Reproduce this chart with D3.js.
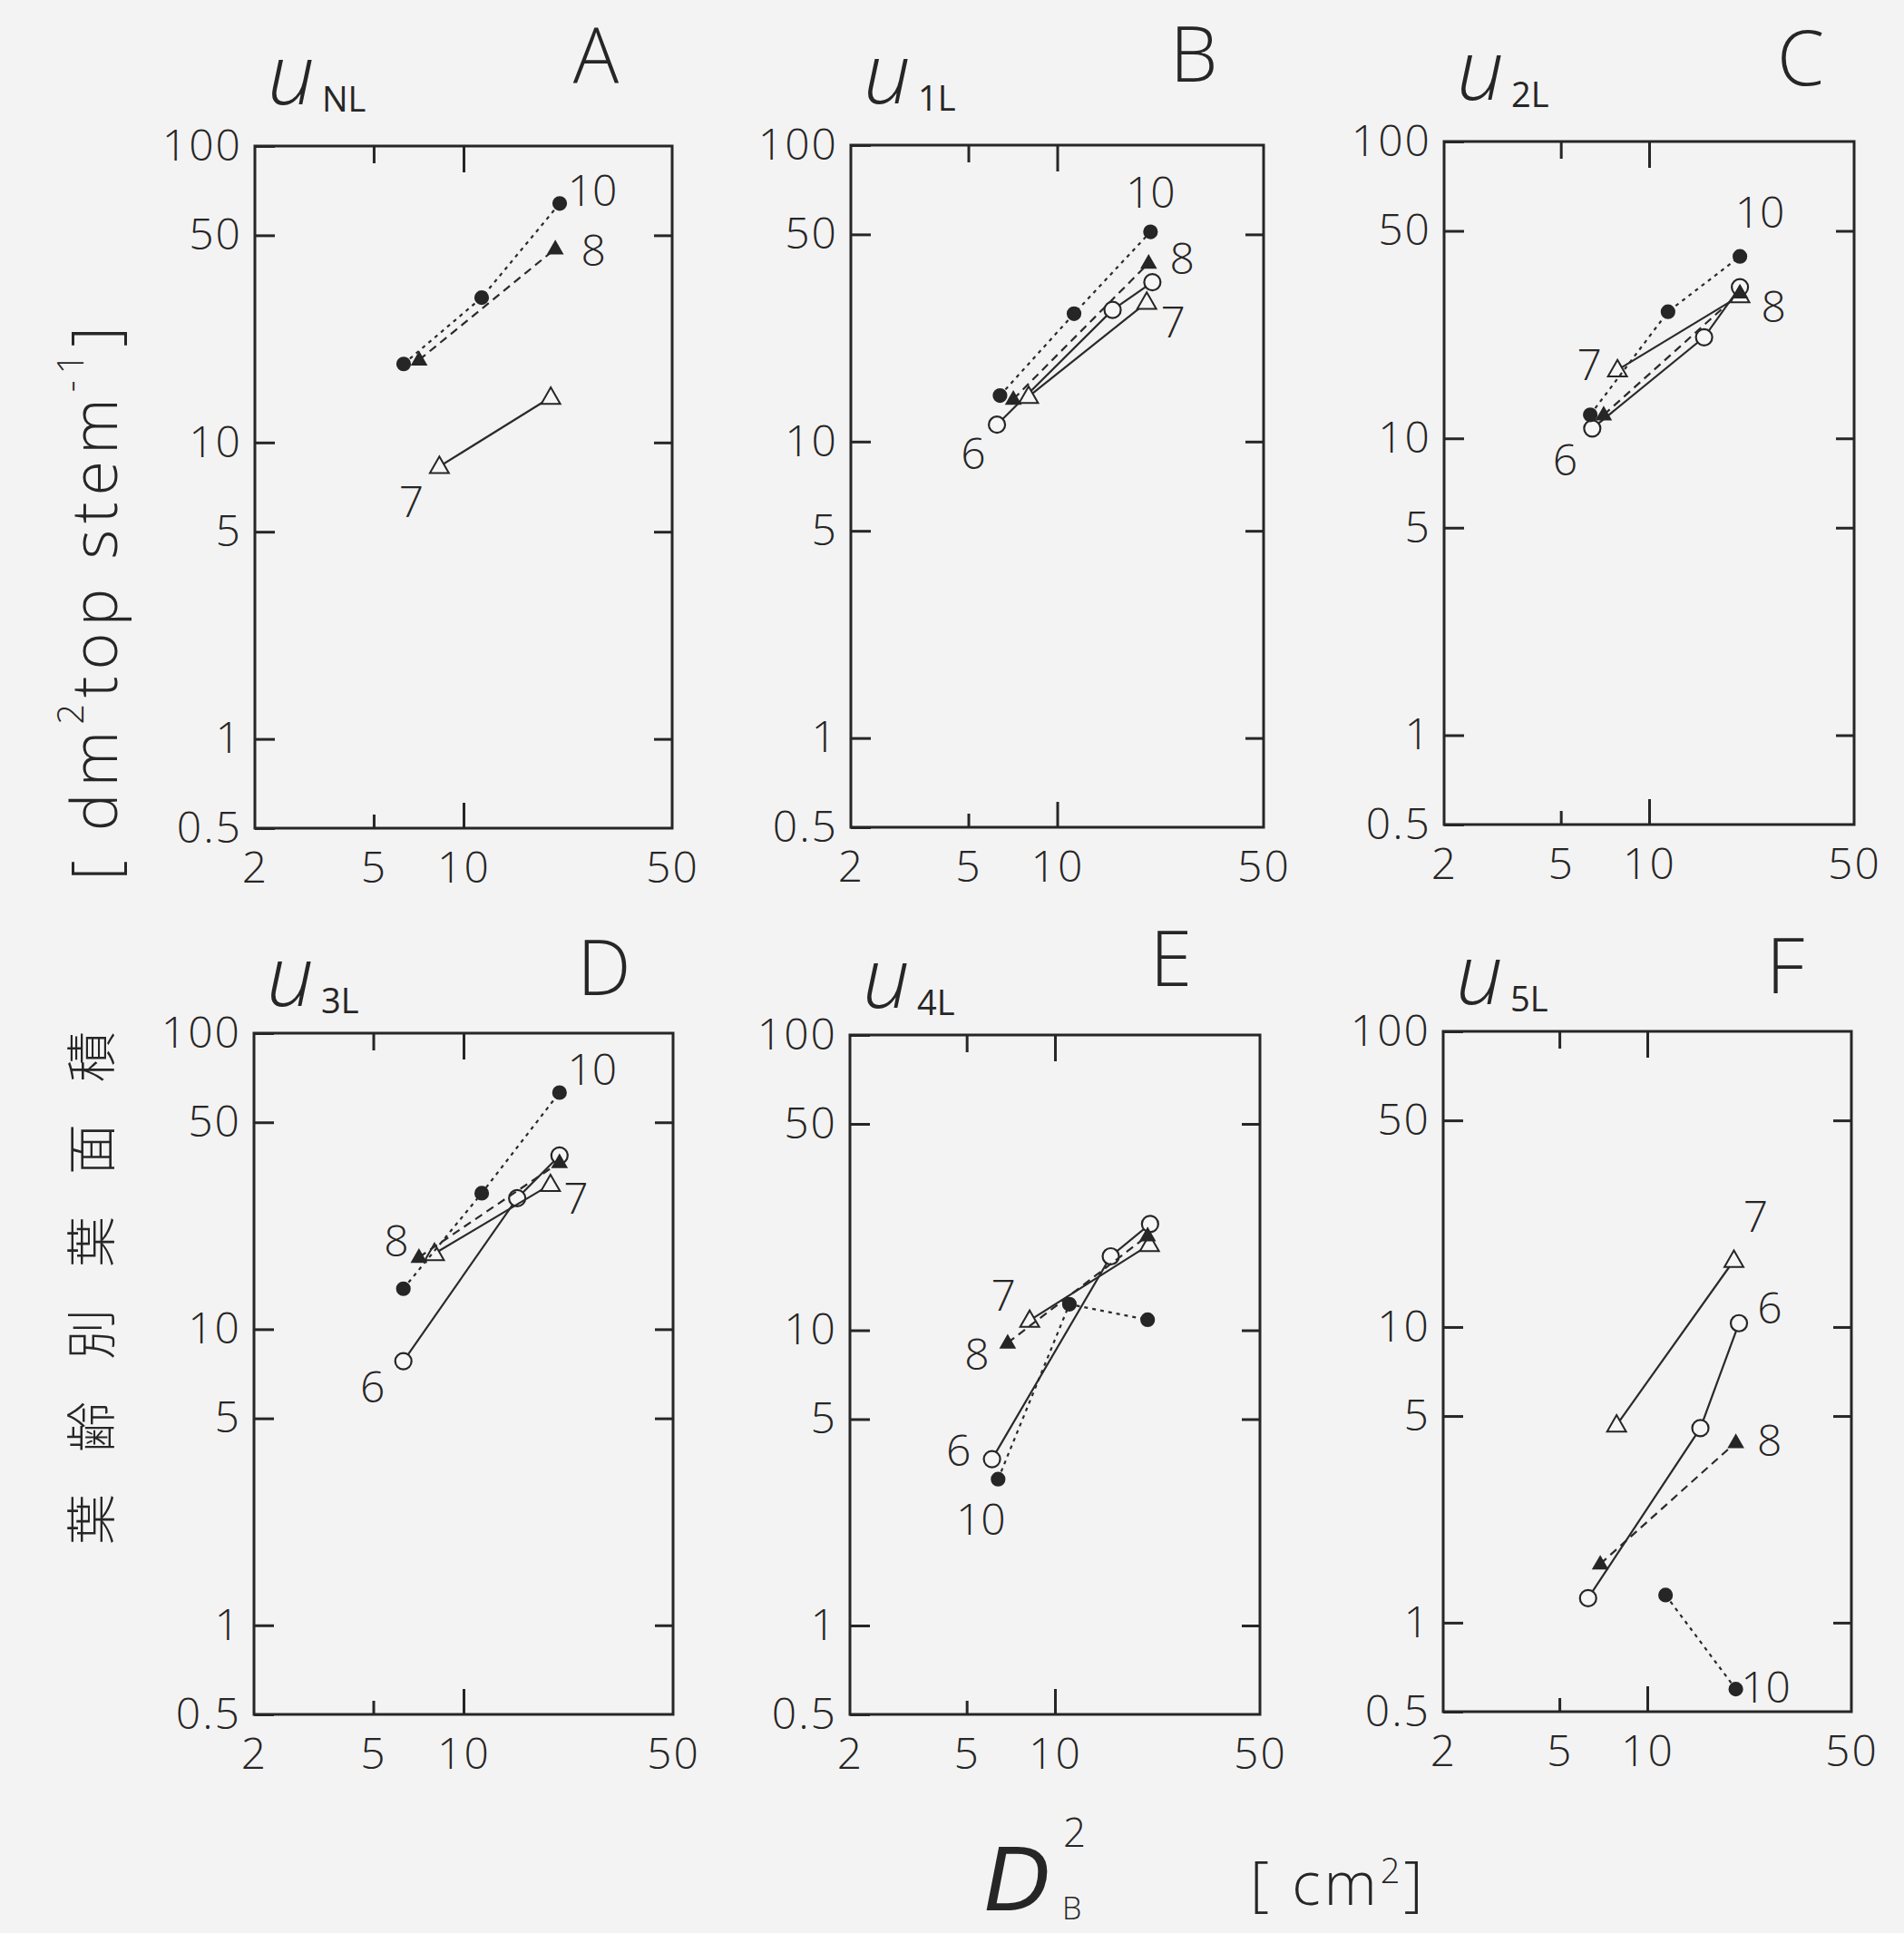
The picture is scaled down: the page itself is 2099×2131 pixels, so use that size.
<!DOCTYPE html>
<html lang="ja">
  <head>
    <meta charset="utf-8">
    <title>u by D_B^2</title>
    <style type="text/css">
      body{
        margin: 0;
        background: #f4f3f3;
      }
      svg text{
        font-family: "Open Sans", "DejaVu Sans", sans-serif;
        font-weight: 300;
        fill: #262626;
      }
      .frame{
        fill: none;
        stroke: #262626;
        stroke-width: 3;
      }
      .axis line{
        stroke: #262626;
        stroke-width: 3;
      }
      .axis path{
        display: none;
      }
      .series{
        fill: none;
        stroke: #2a2a2a;
        stroke-width: 2.2;
      }
    </style>
    <script src="https://cdn.jsdelivr.net/npm/d3@7"></script>
  </head>
  <body>
    <svg id="chart" width="2099" height="2131"></svg>

    <script type="text/javascript">
      //panel letters and subscripts of u
      var panelLetters = ["A", "B", "C", "D", "E", "F"];
      var panelSubs = ["NL", "1L", "2L", "3L", "4L", "5L"];

      //tick values of both log axes
      var xTicks = [2, 5, 10, 50];
      var yTicks = [0.5, 1, 5, 10, 50, 100];

      //points [D_B^2, u] of each series (6, 7, 8, 10)
      var dataA = {
        "10": [[6.3, 18.4], [11.5, 30.8], [21, 64]],
        "8": [[7.1, 19.0], [20.3, 45]],
        "7": [[8.3, 8.3], [19.6, 14.2]]
      };
      var dataB = {
        "10": [[6.4, 14.3], [11.4, 27], [20.7, 51]],
        "8": [[7.1, 13.9], [20.4, 40]],
        "7": [[8.0, 14.2], [20.1, 29.5]],
        "6": [[6.25, 11.4], [15.4, 27.8], [21, 34.5]]
      };
      var dataC = {
        "10": [[6.3, 12.0], [11.6, 26.7], [20.4, 41]],
        "8": [[7.0, 12.0], [20.4, 30.9]],
        "7": [[7.8, 17.0], [20.4, 30.2]],
        "6": [[6.4, 10.8], [15.4, 21.9], [20.4, 32.3]]
      };
      var dataD = {
        "10": [[6.3, 13.7], [11.5, 28.8], [20.9, 63]],
        "8": [[7.1, 17.5], [20.9, 36.6]],
        "7": [[8.0, 18.0], [19.5, 30.8]],
        "6": [[6.3, 7.8], [15.1, 27.7], [20.9, 38.6]]
      };
      var dataE = {
        "10": [[6.4, 3.13], [11.2, 12.25], [20.7, 10.85]],
        "8": [[6.9, 9.06], [20.7, 20.9]],
        "7": [[8.2, 10.8], [21, 19.5]],
        "6": [[6.1, 3.66], [15.5, 17.8], [21.1, 22.9]]
      };
      var dataF = {
        "10": [[11.55, 1.24], [20.1, 0.596]],
        "8": [[6.9, 1.58], [20.1, 4.07]],
        "7": [[7.85, 4.66], [19.8, 16.8]],
        "6": [[6.27, 1.21], [15.2, 4.55], [20.6, 10.3]]
      };
      var panelData = [dataA, dataB, dataC, dataD, dataE, dataF];

      //where each panel sits: left, top, width, height
      var frames = [
        [281, 161, 460, 752],
        [938, 160, 455, 752],
        [1592, 156, 452, 753],
        [280, 1139, 462, 751],
        [937, 1141, 452, 749],
        [1591, 1137, 450, 750]
      ];

      //series label placement: [series, point index, dx, dy]
      var labelSpots = [
        [["10", 2, 36, -16], ["8", 1, 42, 0], ["7", 0, -31, 37]],
        [["10", 2, 0, -45], ["8", 1, 37, -7], ["7", 1, 29, 20], ["6", 0, -26, 30]],
        [["10", 2, 22, -50], ["8", 1, 37, 14], ["7", 0, -31, -7], ["6", 0, -30, 33]],
        [["10", 2, 36, -27], ["7", 1, 28, 14], ["8", 0, -25, -20], ["6", 0, -34, 27]],
        [["7", 0, -29, -29], ["8", 0, -34, 11], ["6", 0, -37, -11], ["10", 0, -19, 43]],
        [["7", 1, 24, -50], ["6", 2, 34, -18], ["8", 1, 37, -4], ["10", 1, 33, -4]]
      ];

      //big panel letter: offset from right edge, baseline above the frame
      var letterDx = [-84, -77, -59, -76, -98, -73];
      var letterDy = [-70, -70, -62, -42, -54, -42];

      //marker and dash for each series
      var seriesStyle = {
        "6": {shape: "circle", fill: false, dash: null, size: 9},
        "7": {shape: "triangle", fill: false, dash: null, size: 11},
        "8": {shape: "triangle", fill: true, dash: "9,6", size: 8},
        "10": {shape: "circle", fill: true, dash: "4,5", size: 7}
      };

      var svg = d3.select("#chart");
      var ink = "#262626";

      frames.forEach(function(f, i){
        var left = f[0], top = f[1], w = f[2], h = f[3];
        var row = i < 3 ? 0 : 1;

        var x = d3.scaleLog().domain([2, 50]).range([0, w]);
        var y = d3.scaleLog().domain([0.5, 100]).range([h, 0]);

        var g = svg.append("g")
          .attr("transform", "translate(" + left + "," + top + ")");

        //left axis with labels, ticks point inward
        g.append("g")
          .attr("class", "axis")
          .call(d3.axisLeft(y).tickValues(yTicks).tickFormat(d3.format("")).tickSize(-22).tickSizeOuter(0).tickPadding(14))
          .selectAll("text")
          .style("font-size", "48px")
          .style("letter-spacing", "2px");

        //right axis, ticks only
        g.append("g")
          .attr("class", "axis")
          .attr("transform", "translate(" + w + ",0)")
          .call(d3.axisRight(y).tickValues([1, 5, 10, 50]).tickFormat("").tickSize(-20).tickSizeOuter(0));

        //bottom axis with labels
        var bottom = g.append("g")
          .attr("class", "axis")
          .attr("transform", "translate(0," + h + ")")
          .call(d3.axisBottom(x).tickValues(xTicks).tickFormat(d3.format("")).tickSize(-15).tickSizeOuter(0).tickPadding(26));
        bottom.selectAll("text")
          .style("font-size", "48px")
          .style("letter-spacing", "2px");
        bottom.selectAll(".tick line")
          .attr("y2", d => d == 10 ? -28 : (d == 5 ? -15 : 0));

        //top axis, ticks only
        g.append("g")
          .attr("class", "axis")
          .call(d3.axisTop(x).tickValues([5, 10]).tickFormat("").tickSize(-19).tickSizeOuter(0))
          .selectAll(".tick line")
          .attr("y2", d => d == 10 ? 29 : 19);

        g.append("rect")
          .attr("class", "frame")
          .attr("width", w)
          .attr("height", h);

        //series lines and markers
        var data = panelData[i];
        var line = d3.line().x(d => x(d[0])).y(d => y(d[1]));

        Object.keys(data).forEach(function(key){
          var st = seriesStyle[key];
          g.append("path")
            .datum(data[key])
            .attr("class", "series")
            .attr("stroke-dasharray", st.dash)
            .attr("d", line);

          if(st.shape == "circle"){
            g.selectAll(null)
              .data(data[key])
              .enter()
              .append("circle")
              .attr("cx", d => x(d[0]))
              .attr("cy", d => y(d[1]))
              .attr("r", st.size)
              .attr("fill", st.fill ? ink : "#f7f6f6")
              .attr("stroke", ink)
              .attr("stroke-width", 2.2);
          }else{
            var s = st.size;
            g.selectAll(null)
              .data(data[key])
              .enter()
              .append("path")
              .attr("transform", d => "translate(" + x(d[0]) + "," + y(d[1]) + ")")
              .attr("d", "M0," + (-s) + "L" + (s * 0.95) + "," + (s * 0.65) + "L" + (-s * 0.95) + "," + (s * 0.65) + "Z")
              .attr("fill", st.fill ? ink : "#f7f6f6")
              .attr("stroke", ink)
              .attr("stroke-width", 2);
          }
        });

        //series labels
        labelSpots[i].forEach(function(l){
          var p = data[l[0]][l[1]];
          g.append("text")
            .attr("x", x(p[0]) + l[2])
            .attr("y", y(p[1]) + l[3])
            .attr("text-anchor", "middle")
            .attr("dominant-baseline", "central")
            .style("font-size", "48px")
            .text(l[0]);
        });

        //panel title u with subscript
        var uBase = row == 0 ? -46 : -30;
        g.append("text")
          .attr("x", 14)
          .attr("y", uBase)
          .style("font-style", "italic")
          .style("font-size", "92px")
          .text("u");
        g.append("text")
          .attr("x", 74)
          .attr("y", uBase + 8)
          .style("font-size", "38px")
          .style("font-weight", "400")
          .text(panelSubs[i]);

        //big panel letter
        g.append("text")
          .attr("x", w + letterDx[i])
          .attr("y", letterDy[i])
          .attr("text-anchor", "middle")
          .style("font-size", "84px")
          .text(panelLetters[i]);
      });

      //y axis title, rotated
      var yTitle = svg.append("text")
        .attr("transform", "translate(102,662) rotate(-90)")
        .attr("text-anchor", "middle")
        .attr("dominant-baseline", "central")
        .style("font-size", "70px")
        .style("letter-spacing", "7px");
      yTitle.append("tspan").text("[ dm");
      yTitle.append("tspan").attr("dy", -26).style("font-size", "40px").text("2");
      yTitle.append("tspan").attr("dy", 26).text("top stem");
      yTitle.append("tspan").attr("dy", -26).style("font-size", "40px").text("-1");
      yTitle.append("tspan").attr("dy", 26).text("]");

      svg.append("text")
        .attr("transform", "translate(96,1397) rotate(-90)")
        .attr("text-anchor", "middle")
        .attr("dominant-baseline", "central")
        .style("font-family", "'Noto Sans CJK JP', sans-serif")
        .style("font-size", "56px")
        .style("letter-spacing", "46px")
        .text("葉齢別葉面積");

      //x axis title D_B^2 [cm2]
      svg.append("text")
        .attr("x", 1085)
        .attr("y", 2106)
        .style("font-family", "'DejaVu Sans', sans-serif")
        .style("font-style", "italic")
        .style("font-weight", "400")
        .style("font-size", "96px")
        .text("D");
      svg.append("text")
        .attr("x", 1172)
        .attr("y", 2036)
        .style("font-size", "44px")
        .text("2");
      svg.append("text")
        .attr("x", 1171)
        .attr("y", 2116)
        .style("font-size", "34px")
        .text("B");
      var unit = svg.append("text")
        .attr("x", 1378)
        .attr("y", 2100)
        .style("font-size", "66px")
        .style("letter-spacing", "4px");
      unit.append("tspan").text("[ cm");
      unit.append("tspan").attr("dy", -24).style("font-size", "38px").text("2");
      unit.append("tspan").attr("dy", 24).text("]");
    </script>
  </body>
</html>
